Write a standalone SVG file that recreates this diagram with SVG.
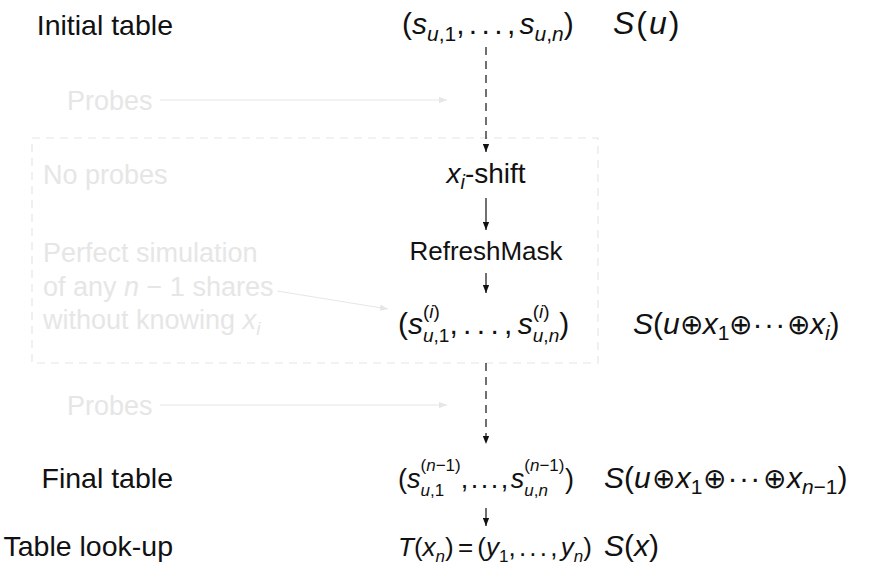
<svg xmlns="http://www.w3.org/2000/svg" width="886" height="569" viewBox="0 0 886 569">
<style>
text{font-family:"Liberation Sans","DejaVu Sans",sans-serif;font-size:27px;fill:#111}
.lbl{font-size:28.5px}
.g{fill:#e6e6e6}
.m{font-size:30px}
.i{font-style:italic}
.s1{font-size:21px}
.s2{font-size:19px}
.s3{font-size:17px}
.sp{font-size:17px}
.op{font-family:"DejaVu Sans",sans-serif;font-size:28px;font-style:normal;font-weight:200}
.conn{stroke:#111;stroke-width:1.2;fill:none}
.dash{stroke-dasharray:8 6}
.gconn{stroke:#e6e6e6;stroke-width:1.2;fill:none}
</style>
<defs>
<marker id="ah" viewBox="0 0 10 10" refX="10" refY="5" markerWidth="8" markerHeight="7" markerUnits="userSpaceOnUse" orient="auto" preserveAspectRatio="none"><path d="M0,0.5 L10,5 L0,9.5 z" fill="#111"/></marker>
<marker id="gah" viewBox="0 0 10 10" refX="10" refY="5" markerWidth="8" markerHeight="7" markerUnits="userSpaceOnUse" orient="auto" preserveAspectRatio="none"><path d="M0,0.5 L10,5 L0,9.5 z" fill="#e6e6e6"/></marker>
</defs>
<rect id="box" x="32" y="138" width="566" height="225" fill="none" stroke="#e6e6e6" stroke-width="1.2" stroke-dasharray="8 6"/>
<g id="labels">
<text class="lbl" x="173" y="35" text-anchor="end">Initial table</text>
<text class="lbl" x="173" y="488" text-anchor="end">Final table</text>
<text class="lbl" x="173" y="556" text-anchor="end">Table look-up</text>
</g>
<g id="grey-notes">
<text class="g" x="67" y="110">Probes</text>
<text class="g" x="67" y="415">Probes</text>
<text class="g" x="43" y="184">No probes</text>
<text class="g" x="43" y="262">Perfect simulation</text>
<text class="g" x="43" y="296">of any <tspan class="i">n</tspan> − 1 shares</text>
<text class="g" x="43" y="329">without knowing <tspan class="i">x</tspan><tspan class="s2 i" dy="6">i</tspan></text>
</g>
<g id="n-initial">
<text class="m" x="402" y="34">(<tspan class="i">s</tspan><tspan class="s1" dy="7"><tspan class="i">u</tspan>,1</tspan><tspan dy="-7" style="word-spacing:-4px">, . . . , </tspan><tspan class="i">s</tspan><tspan class="s1" dy="7"><tspan class="i">u</tspan>,<tspan class="i">n</tspan></tspan><tspan dy="-7">)</tspan></text>
<text x="613" y="34" style="font-size:32px;letter-spacing:2px"><tspan class="i">S</tspan>(<tspan class="i">u</tspan>)</text>
</g>
<g id="n-shift">
<text x="486" y="183" text-anchor="middle" style="font-size:28px"><tspan class="i">x</tspan><tspan class="i" style="font-size:20px" dy="6">i</tspan><tspan dy="-6">-shift</tspan></text>
</g>
<g id="n-refresh">
<text x="486" y="260" text-anchor="middle" style="font-size:26px">RefreshMask</text>
</g>
<g id="n-shares-i">
<text class="m" x="398" y="334">(<tspan class="i">s</tspan><tspan class="s2" dy="-16">(<tspan class="i">i</tspan>)</tspan><tspan class="s2" dx="-16.9" dy="24"><tspan class="i">u</tspan>,1</tspan><tspan dy="-8" style="word-spacing:-3px">, . . . , </tspan><tspan class="i">s</tspan><tspan class="s2" dy="-16">(<tspan class="i">i</tspan>)</tspan><tspan class="s2" dx="-16.9" dy="24"><tspan class="i">u</tspan>,<tspan class="i">n</tspan></tspan><tspan dy="-8">)</tspan></text>
<text class="m" x="633" y="334"><tspan class="i">S</tspan>(<tspan class="i">u</tspan><tspan class="op">⊕</tspan><tspan class="i">x</tspan><tspan class="s1" dy="6">1</tspan><tspan class="op" dy="-6">⊕</tspan><tspan style="letter-spacing:1.5px">···</tspan><tspan class="op">⊕</tspan><tspan class="i">x</tspan><tspan class="s1 i" dy="6">i</tspan><tspan dy="-6">)</tspan></text>
</g>
<g id="n-final">
<text x="398" y="488">(<tspan class="i">s</tspan><tspan class="sp" dy="-17">(<tspan class="i">n</tspan>−1)</tspan><tspan class="s3" dx="-40.2" dy="25"><tspan class="i">u</tspan>,1</tspan><tspan dx="16.6" dy="-8" style="word-spacing:-5px">, . . . , </tspan><tspan class="i">s</tspan><tspan class="sp" dy="-17">(<tspan class="i">n</tspan>−1)</tspan><tspan class="s3" dx="-40.2" dy="25"><tspan class="i">u</tspan>,<tspan class="i">n</tspan></tspan><tspan dx="17" dy="-8">)</tspan></text>
<text class="m" x="604" y="488"><tspan class="i">S</tspan>(<tspan class="i">u</tspan><tspan class="op" dx="1">⊕</tspan><tspan class="i" dx="1">x</tspan><tspan class="s1" dy="6">1</tspan><tspan class="op" dx="1" dy="-6">⊕</tspan><tspan dx="1" style="letter-spacing:1.5px">···</tspan><tspan class="op" dx="1">⊕</tspan><tspan class="i" dx="1">x</tspan><tspan class="s1" dy="6"><tspan class="i">n</tspan>−1</tspan><tspan dy="-6">)</tspan></text>
</g>
<g id="n-lookup">
<text x="398" y="556" style="font-size:26px"><tspan class="i">T</tspan>(<tspan class="i">x</tspan><tspan class="s3 i" dy="6">n</tspan><tspan dy="-6" style="word-spacing:-3px">) = (</tspan><tspan class="i">y</tspan><tspan class="s3" dy="6">1</tspan><tspan dy="-6" style="word-spacing:-4px">, . . . , </tspan><tspan class="i">y</tspan><tspan class="s3 i" dy="6">n</tspan><tspan dy="-6">)</tspan></text>
<text class="m" x="604" y="556"><tspan class="i">S</tspan>(<tspan class="i">x</tspan>)</text>
</g>
<g id="connectors">
<line class="conn dash" x1="486" y1="47" x2="486" y2="152" marker-end="url(#ah)"/>
<line class="conn" x1="486" y1="198" x2="486" y2="230" marker-end="url(#ah)"/>
<line class="conn" x1="486" y1="273" x2="486" y2="293" marker-end="url(#ah)"/>
<line class="conn dash" x1="486" y1="363" x2="486" y2="444" marker-end="url(#ah)"/>
<line class="conn" x1="486" y1="508" x2="486" y2="526" marker-end="url(#ah)"/>
<line class="gconn" x1="160" y1="100" x2="447" y2="100" marker-end="url(#gah)"/>
<line class="gconn" x1="160" y1="405" x2="447" y2="405" marker-end="url(#gah)"/>
<line class="gconn" x1="277" y1="291" x2="388" y2="309" marker-end="url(#gah)"/>
</g>
</svg>
